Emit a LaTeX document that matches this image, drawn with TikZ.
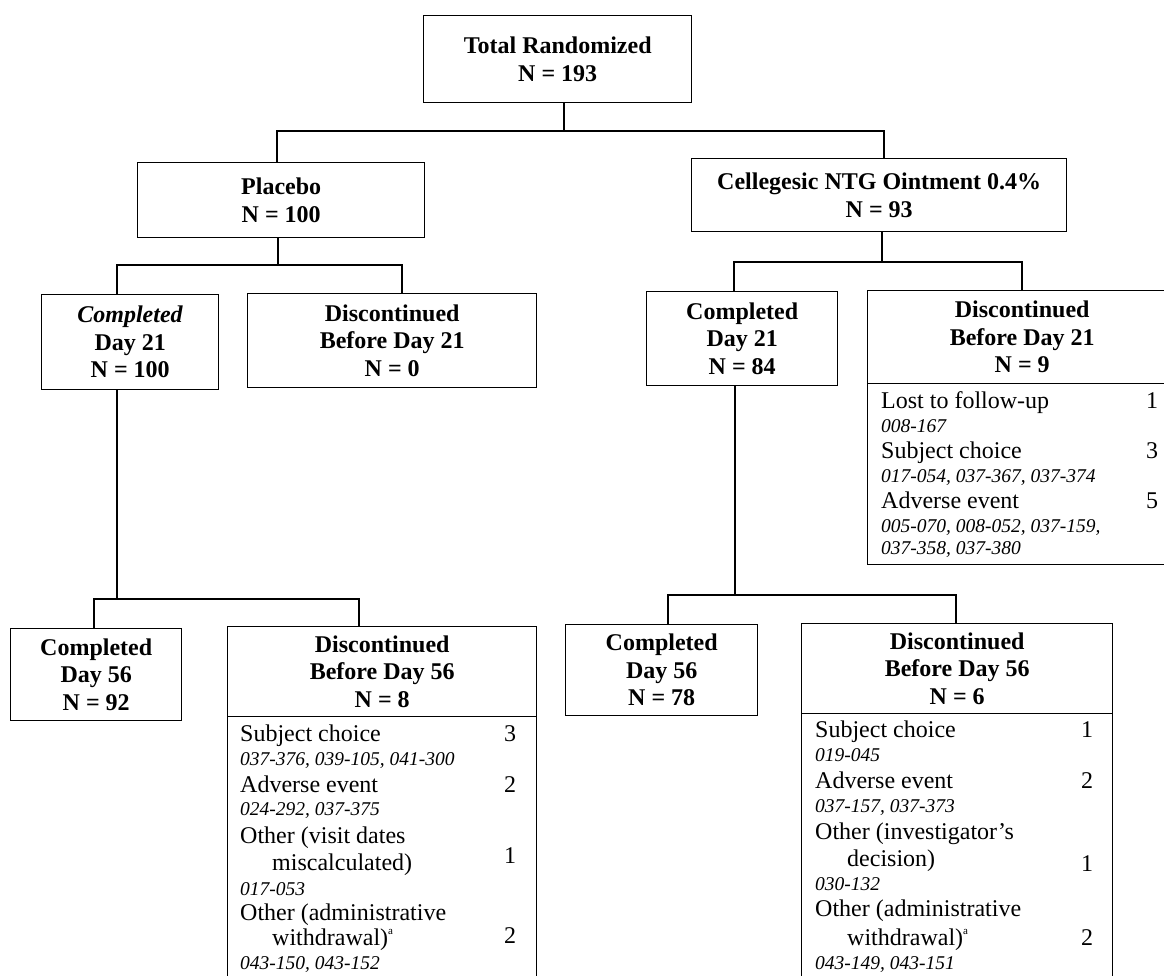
\documentclass[tikz,border=0pt]{standalone}
\usepackage{fontspec}
\setmainfont{Liberation Serif}
\newcommand\hdfont{\fontsize{24}{27.5}\selectfont\bfseries}
\newcommand\rgfont{\fontsize{24}{25}\selectfont}
\newcommand\idfont{\fontsize{19.5}{22}\selectfont\itshape}
\newcommand\supa{\raisebox{0.45em}{\fontsize{11}{11}\selectfont a}}
\begin{document}
\begin{tikzpicture}[x=1pt,y=-1pt,
  box/.style={draw,line width=1.4pt,inner sep=0pt,align=center,anchor=north west,font=\hdfont},
  lbox/.style={draw,line width=1.4pt,inner sep=0pt,anchor=north west},
  conn/.style={line width=1.4pt},
  item/.style={anchor=base west,inner sep=0pt,font=\rgfont},
  ids/.style={anchor=base west,inner sep=0pt,font=\idfont},
  cnt/.style={anchor=base,inner sep=0pt,font=\rgfont}]
\useasboundingbox (0,0) rectangle (1164,976);
\clip (0,0) rectangle (1164,976);

% boxes
\node[box,minimum width=268pt,minimum height=87pt] (total) at (423,15) {Total Randomized\\N = 193};
\node[box,minimum width=287pt,minimum height=75pt] (placebo) at (137,162) {Placebo\\N = 100};
\node[box,minimum width=375pt,minimum height=73pt] (cell) at (691,158) {Cellegesic NTG Ointment 0.4\%\\N = 93};

\node[box,minimum width=177pt,minimum height=95pt] (pc21) at (41,294) {\textit{Completed}\\Day 21\\N = 100};
\node[box,minimum width=289pt,minimum height=94pt] (pd21) at (247,293) {Discontinued\\Before Day 21\\N = 0};
\node[box,minimum width=191pt,minimum height=94pt] (cc21) at (646,291) {Completed\\Day 21\\N = 84};
\node[box,minimum width=309pt,minimum height=93pt] (cd21) at (867,290) {Discontinued\\Before Day 21\\N = 9};
\node[lbox,minimum width=309pt,minimum height=181pt] (cd21l) at (867,383) {};

\node[box,minimum width=171pt,minimum height=92pt] (pc56) at (10,628) {Completed\\Day 56\\N = 92};
\node[box,minimum width=309pt,minimum height=90pt] (pd56) at (227,626) {Discontinued\\Before Day 56\\N = 8};
\node[lbox,minimum width=309pt,minimum height=300pt] (pd56l) at (227,716) {};
\node[box,minimum width=192pt,minimum height=91pt] (cc56) at (565,624) {Completed\\Day 56\\N = 78};
\node[box,minimum width=311pt,minimum height=90pt] (cd56) at (801,623) {Discontinued\\Before Day 56\\N = 6};
\node[lbox,minimum width=311pt,minimum height=300pt] (cd56l) at (801,713) {};

% junction points
\coordinate (j0) at (564,131);
\coordinate (a1) at (277,131);
\coordinate (a2) at (884,131);
\coordinate (b0) at (278,265);
\coordinate (b1) at (117,265);
\coordinate (b2) at (402,265);
\coordinate (c0) at (882,262);
\coordinate (c1) at (734,262);
\coordinate (c2) at (1022,262);
\coordinate (d0) at (117,599);
\coordinate (d1) at (94,599);
\coordinate (d2) at (359,599);
\coordinate (e0) at (735,595);
\coordinate (e1) at (668,595);
\coordinate (e2) at (956,595);

% connectors
\draw[conn] (total.south -| j0) -- (j0);
\draw[conn] (placebo.north -| a1) |- (a2) -- (cell.north -| a2);
\draw[conn] (placebo.south -| b0) -- (b0);
\draw[conn] (pc21.north -| b1) |- (b2) -- (pd21.north -| b2);
\draw[conn] (cell.south -| c0) -- (c0);
\draw[conn] (cc21.north -| c1) |- (c2) -- (cd21.north -| c2);
\draw[conn] (pc21.south -| d0) -- (d0);
\draw[conn] (pc56.north -| d1) |- (d2) -- (pd56.north -| d2);
\draw[conn] (cc21.south -| e0) -- (e0);
\draw[conn] (cc56.north -| e1) |- (e2) -- (cd56.north -| e2);

% list: Cellegesic before day 21
\node[item] (t1) at (881,408) {Lost to follow-up};
\node[cnt] (n1) at (1152,408) {1};
\node[ids] (s1) at (881,432) {008-167};
\node[item] (t2) at (881,458) {Subject choice};
\node[cnt] (n2) at (1152,458) {3};
\node[ids] (s2) at (881,482) {017-054, 037-367, 037-374};
\node[item] (t3) at (881,508) {Adverse event};
\node[cnt] (n3) at (1152,508) {5};
\node[ids] (s3) at (881,532) {005-070, 008-052, 037-159,};
\node[ids] (s3b) at (881,554) {037-358, 037-380};

% list: Placebo before day 56
\node[item] (p1) at (240,741) {Subject choice};
\node[cnt] (pn1) at (510,741) {3};
\node[ids] (ps1) at (240,765) {037-376, 039-105, 041-300};
\node[item] (p2) at (240,792) {Adverse event};
\node[cnt] (pn2) at (510,792) {2};
\node[ids] (ps2) at (240,815) {024-292, 037-375};
\node[item] (p3) at (240,843) {Other (visit dates};
\node[item] (p3b) at (272,870) {miscalculated)};
\node[cnt] (pn3) at (510,863) {1};
\node[ids] (ps3) at (240,895) {017-053};
\node[item] (p4) at (240,920) {Other (administrative};
\node[item] (p4b) at (272,945) {withdrawal)\supa};
\node[cnt] (pn4) at (510,943) {2};
\node[ids] (ps4) at (240,969) {043-150, 043-152};

% list: Cellegesic before day 56
\node[item] (q1) at (815,737) {Subject choice};
\node[cnt] (qn1) at (1087,737) {1};
\node[ids] (qs1) at (815,761) {019-045};
\node[item] (q2) at (815,788) {Adverse event};
\node[cnt] (qn2) at (1087,788) {2};
\node[ids] (qs2) at (815,812) {037-157, 037-373};
\node[item] (q3) at (815,839) {Other (investigator’s};
\node[item] (q3b) at (847,866) {decision)};
\node[cnt] (qn3) at (1087,871) {1};
\node[ids] (qs3) at (815,890) {030-132};
\node[item] (q4) at (815,916) {Other (administrative};
\node[item] (q4b) at (847,945) {withdrawal)\supa};
\node[cnt] (qn4) at (1087,945) {2};
\node[ids] (qs4) at (815,969) {043-149, 043-151};
\end{tikzpicture}
\end{document}
